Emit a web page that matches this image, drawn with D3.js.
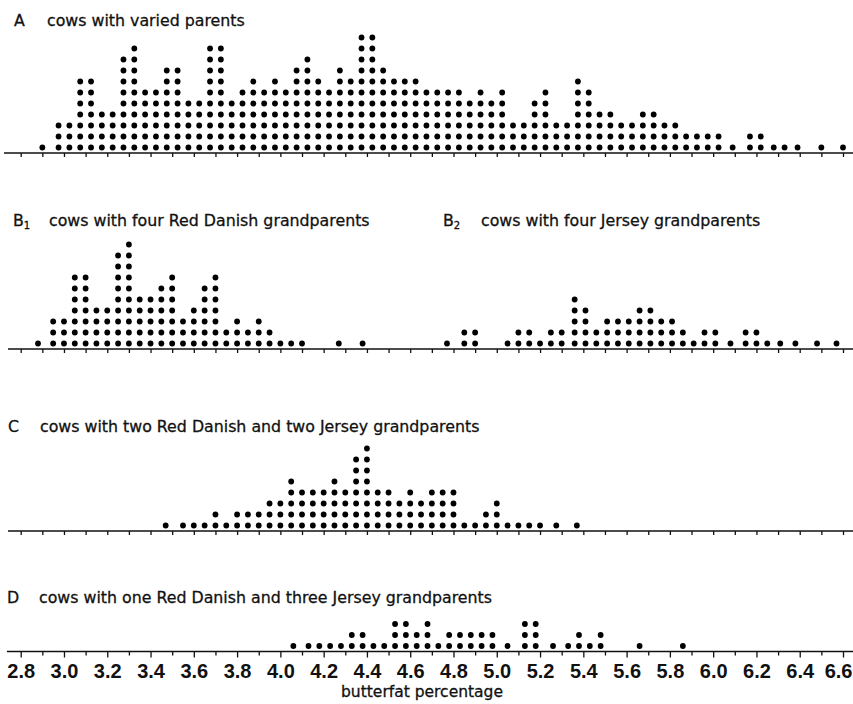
<!DOCTYPE html>
<html><head><meta charset="utf-8">
<script src="https://cdn.jsdelivr.net/npm/d3@7"></script>
<style>body{margin:0;background:#fff}svg{display:block}</style>
</head><body>
<svg id="chart" width="853" height="704"></svg>
<script>
// ---- data: butterfat percentage columns (value) and number of cows (count) ----
const aValues = [2.90, 2.975, 3.025, 3.075, 3.125, 3.175, 3.225, 3.275, 3.325, 3.375, 3.425, 3.475, 3.525, 3.575, 3.625, 3.675, 3.725, 3.775, 3.825, 3.875, 3.925, 3.975, 4.025, 4.075, 4.125, 4.175, 4.225, 4.275, 4.325, 4.375, 4.425, 4.475, 4.525, 4.575, 4.625, 4.675, 4.725, 4.775, 4.825, 4.875, 4.925, 4.975, 5.025, 5.075, 5.125, 5.175, 5.225, 5.275, 5.325, 5.375, 5.425, 5.475, 5.525, 5.575, 5.625, 5.675, 5.725, 5.775, 5.825, 5.875, 5.925, 5.975, 6.025, 6.09, 6.17, 6.22, 6.28, 6.33, 6.39, 6.50, 6.60];
const aCounts = [1, 3, 3, 7, 7, 4, 4, 9, 10, 6, 6, 8, 8, 5, 5, 10, 10, 5, 6, 7, 6, 7, 6, 8, 9, 7, 6, 8, 7, 11, 11, 8, 7, 7, 7, 6, 6, 6, 6, 5, 6, 5, 6, 3, 3, 5, 6, 3, 3, 7, 6, 4, 4, 3, 3, 4, 4, 3, 3, 2, 2, 2, 2, 1, 2, 2, 1, 1, 1, 1, 1];

const b1Values = [2.88, 2.95, 3.00, 3.05, 3.10, 3.15, 3.20, 3.25, 3.30, 3.35, 3.40, 3.45, 3.50, 3.55, 3.60, 3.65, 3.70, 3.75, 3.80, 3.85, 3.90, 3.95, 4.00, 4.05, 4.10, 4.27, 4.38];
const b1Counts = [1, 3, 3, 7, 7, 4, 4, 9, 10, 5, 5, 6, 7, 3, 4, 6, 7, 2, 3, 2, 3, 2, 1, 1, 1, 1, 1];

const b2Values = [4.77, 4.85, 4.90, 5.05, 5.10, 5.15, 5.20, 5.25, 5.30, 5.36, 5.41, 5.46, 5.51, 5.56, 5.61, 5.66, 5.71, 5.76, 5.81, 5.86, 5.91, 5.96, 6.01, 6.08, 6.15, 6.20, 6.25, 6.31, 6.38, 6.48, 6.57];
const b2Counts = [1, 2, 2, 1, 2, 2, 1, 2, 2, 5, 4, 2, 3, 3, 3, 4, 4, 3, 3, 2, 1, 2, 2, 1, 2, 2, 1, 1, 1, 1, 1];

const cValues = [3.47, 3.55, 3.60, 3.65, 3.70, 3.75, 3.80, 3.85, 3.90, 3.95, 4.00, 4.05, 4.10, 4.15, 4.20, 4.25, 4.30, 4.35, 4.40, 4.45, 4.50, 4.55, 4.60, 4.65, 4.70, 4.75, 4.80, 4.85, 4.90, 4.95, 5.00, 5.05, 5.10, 5.15, 5.20, 5.275, 5.37];
const cCounts = [1, 1, 1, 1, 2, 1, 2, 2, 2, 3, 3, 5, 4, 4, 4, 5, 4, 7, 8, 4, 4, 3, 4, 3, 4, 4, 4, 1, 1, 2, 3, 1, 1, 1, 1, 1, 1];

const dValues = [4.06, 4.13, 4.18, 4.23, 4.28, 4.33, 4.38, 4.43, 4.48, 4.53, 4.58, 4.63, 4.68, 4.73, 4.78, 4.83, 4.88, 4.93, 4.98, 5.05, 5.13, 5.18, 5.26, 5.33, 5.38, 5.43, 5.48, 5.66, 5.86];
const dCounts = [1, 1, 1, 1, 1, 2, 2, 1, 1, 3, 3, 2, 3, 1, 2, 2, 2, 2, 2, 1, 3, 3, 1, 1, 2, 1, 2, 1, 1];

const tickValues = d3.range(28, 67).map(d => d / 10);      // 2.8 ... 6.6
const tickLabels = d3.range(28, 67, 2).map(d => d / 10);   // labelled every 0.2
const xTitle = "butterfat percentage";

const titles = [
  {letter: "A", sub: "",  text: "cows with varied parents"},
  {letter: "B", sub: "1", text: "cows with four Red Danish grandparents"},
  {letter: "B", sub: "2", text: "cows with four Jersey grandparents"},
  {letter: "C", sub: "",  text: "cows with two Red Danish and two Jersey grandparents"},
  {letter: "D", sub: "",  text: "cows with one Red Danish and three Jersey grandparents"}
];

// ---- layout ----
const W = 853, H = 704;
const svg = d3.select("#chart");
svg.append("rect").attr("width", W).attr("height", H).attr("fill", "#fff");

const x = d3.scaleLinear().domain([2.8, 6.6]).range([20.7, 843]);
const ROW = 11, R = 2.9;
const titleFont = "'DejaVu Sans', sans-serif";

const axes = [
  {lineY: 153,   x0: 4, labels: false},
  {lineY: 349,   x0: 8, labels: false},
  {lineY: 531,   x0: 8, labels: false},
  {lineY: 651.5, x0: 7, labels: true}
];

const series = [
  {values: aValues,  counts: aCounts,  axis: 0},
  {values: b1Values, counts: b1Counts, axis: 1},
  {values: b2Values, counts: b2Counts, axis: 1},
  {values: cValues,  counts: cCounts,  axis: 2},
  {values: dValues,  counts: dCounts,  axis: 3}
];

const titlePos = [
  {lx: 14, tx: 47,  y: 26},
  {lx: 13, tx: 49,  y: 226},
  {lx: 443, tx: 481, y: 226},
  {lx: 8,  tx: 40,  y: 432},
  {lx: 7,  tx: 39,  y: 603}
];

// axes
axes.forEach(a => {
  const g = svg.append("g").attr("transform", `translate(0,${a.lineY})`);
  const axis = d3.axisBottom(x)
    .tickValues(tickValues)
    .tickSizeInner(6).tickSizeOuter(0).tickPadding(6)
    .tickFormat(d => (a.labels && tickLabels.includes(d)) ? d3.format(".1f")(d) : "");
  g.call(axis);
  g.select(".domain").remove();
  g.selectAll(".tick line")
    .attr("stroke", "#111").attr("stroke-width", 1.3)
    .attr("y2", d => (a.labels && tickLabels.includes(d)) ? 6 : 4);
  g.selectAll(".tick text")
    .attr("fill", "#111")
    .style("font-family", "'Liberation Sans', Arial, sans-serif")
    .style("font-size", "20px")
    .style("font-weight", "bold");
  // keep the last label inside the picture
  g.selectAll(".tick text")
    .filter(d => x(d) + 14 > W)
    .attr("text-anchor", "end")
    .attr("x", d => W - 1 - x(d));
  g.append("line")
    .attr("x1", a.x0).attr("x2", W)
    .attr("y1", 0).attr("y2", 0)
    .attr("stroke", "#111").attr("stroke-width", 1.7);
});

// dots
series.forEach(s => {
  const base = axes[s.axis].lineY;
  const y = d3.scaleLinear().domain([0, 1]).range([base - 5.5, base - 5.5 - ROW]);
  const dots = [];
  s.values.forEach((v, i) => {
    for (let k = 0; k < s.counts[i]; k++) dots.push({v, k});
  });
  svg.append("g").selectAll("circle").data(dots).join("circle")
    .attr("cx", d => x(d.v))
    .attr("cy", d => y(d.k))
    .attr("r", R)
    .attr("fill", "#000");
});

// titles
titles.forEach((t, i) => {
  const p = titlePos[i];
  const lt = svg.append("text")
    .attr("x", p.lx).attr("y", p.y)
    .style("font-family", titleFont).style("font-size", "15.8px")
    .attr("fill", "#111").attr("stroke", "#111").attr("stroke-width", 0.3)
    .text(t.letter);
  if (t.sub) {
    lt.append("tspan").attr("dy", 3).style("font-size", "10px").text(t.sub);
  }
  svg.append("text")
    .attr("x", p.tx).attr("y", p.y)
    .style("font-family", titleFont).style("font-size", "15.8px")
    .attr("fill", "#111").attr("stroke", "#111").attr("stroke-width", 0.3)
    .text(t.text);
});

// x axis title
svg.append("text")
  .attr("x", 422).attr("y", 697)
  .attr("text-anchor", "middle")
  .style("font-family", titleFont).style("font-size", "15.5px")
  .attr("fill", "#111").attr("stroke", "#111").attr("stroke-width", 0.3)
  .text(xTitle);
</script>
</body></html>
